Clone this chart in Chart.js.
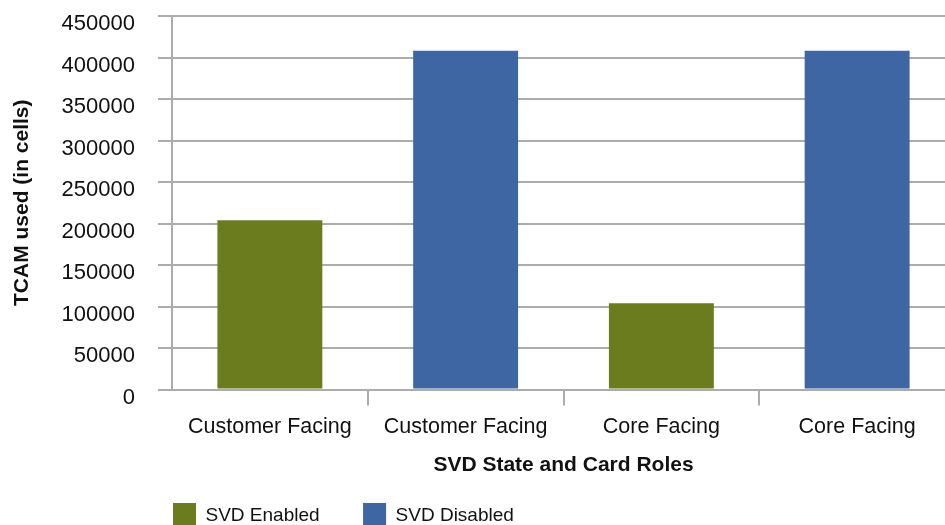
<!DOCTYPE html>
<html>
<head>
<meta charset="utf-8">
<script src="https://cdn.jsdelivr.net/npm/chart.js@4.4.1/dist/chart.umd.min.js"></script>
<style>
  html, body { margin: 0; padding: 0; background: #ffffff; overflow: hidden; width: 945px; height: 525px; }
  #wrap { position: absolute; left: 0; top: 0; width: 956px; height: 568px; }
</style>
</head>
<body>
<div id="wrap"><canvas id="c"></canvas></div>
<script>
// ---- data ----
const categories = ['Customer Facing', 'Customer Facing', 'Core Facing', 'Core Facing'];
const seriesNames = ['SVD Enabled', 'SVD Disabled'];
const svdEnabled = [204000, null, 104000, null];
const svdDisabled = [null, 408000, null, 408000];
const yTickLabels = ['0', '50000', '100000', '150000', '200000', '250000', '300000', '350000', '400000', '450000'];
const xTitle = 'SVD State and Card Roles';
const yTitle = 'TCAM used (in cells)';

// ---- style ----
const GREEN = '#6a7c1e';
const BLUE = '#3e66a3';
const GRID = '#acacac';
const TEXT = '#111111';
const FONT = 'Liberation Sans, Arial, Helvetica, sans-serif';
const LEGEND_PAD = 43.5;
const LEGEND_X = 173;
const LEGEND_Y = 503;

const legendShift = {
  id: 'legendShift',
  afterLayout(chart) {
    const l = chart.legend;
    if (!l) return;
    l.left = LEGEND_X - LEGEND_PAD;
    l.top = LEGEND_Y - LEGEND_PAD;
  }
};

new Chart(document.getElementById('c'), {
  type: 'bar',
  data: {
    labels: categories,
    datasets: [
      { label: seriesNames[0], data: svdEnabled, backgroundColor: GREEN, borderWidth: 0, skipNull: true,
        barPercentage: 0.536, categoryPercentage: 1.0 },
      { label: seriesNames[1], data: svdDisabled, backgroundColor: BLUE, borderWidth: 0, skipNull: true,
        barPercentage: 0.536, categoryPercentage: 1.0 }
    ]
  },
  options: {
    responsive: true,
    maintainAspectRatio: false,
    animation: false,
    layout: { padding: { top: 16, right: 1, left: 0, bottom: 0 } },
    plugins: {
      tooltip: { enabled: false },
      legend: {
        display: true,
        position: 'bottom',
        align: 'start',
        labels: {
          boxWidth: 23,
          boxHeight: 25,
          padding: LEGEND_PAD,
          color: TEXT,
          font: { family: FONT, size: 19 }
        }
      }
    },
    scales: {
      x: {
        grid: {
          offset: true,
          drawOnChartArea: false,
          drawTicks: true,
          tickLength: 16,
          lineWidth: 2,
          color: (ctx) => ctx.index === 0 ? 'rgba(0,0,0,0)' : GRID
        },
        border: { display: true, color: GRID, width: 2 },
        ticks: {
          color: TEXT,
          padding: 9,
          maxRotation: 0,
          autoSkip: false,
          font: { family: FONT, size: 21.5 }
        },
        title: {
          display: true,
          text: xTitle,
          color: TEXT,
          font: { family: FONT, size: 21, weight: 'bold' },
          padding: { top: 4, bottom: 12 }
        },
        afterFit: (s) => { s.height = 100; }
      },
      y: {
        min: 0,
        max: 450000,
        grid: {
          drawOnChartArea: true,
          drawTicks: true,
          tickLength: 14,
          lineWidth: 2,
          color: GRID
        },
        border: { display: true, color: GRID, width: 2 },
        ticks: {
          stepSize: 50000,
          color: TEXT,
          padding: 23,
          labelOffset: 8,
          font: { family: FONT, size: 22 },
          callback: (v, i) => yTickLabels[i]
        },
        title: {
          display: true,
          text: yTitle,
          color: TEXT,
          font: { family: FONT, size: 21, weight: 'bold' },
          padding: { top: 10, bottom: 4 }
        },
        afterFit: (s) => { s.width = 172; s.paddingTop = 0; s.paddingBottom = 0; }
      }
    }
  },
  plugins: [legendShift]
});
</script>
</body>
</html>
